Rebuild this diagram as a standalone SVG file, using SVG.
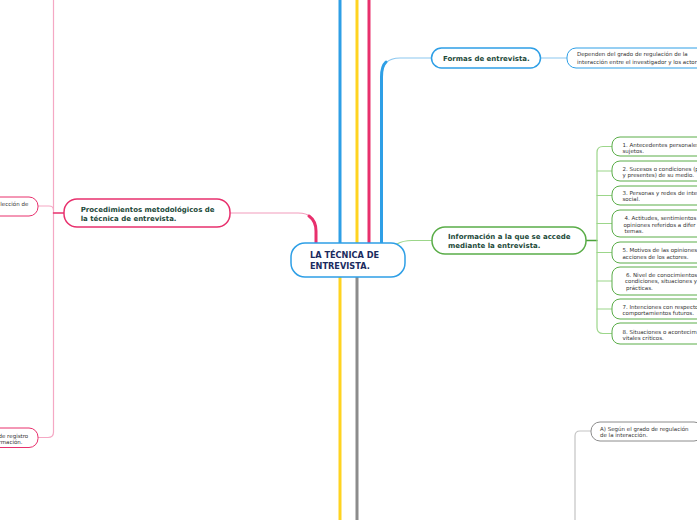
<svg xmlns="http://www.w3.org/2000/svg" width="697" height="520" viewBox="0 0 697 520">
<style>
.n{fill:#fff;stroke-width:1.5}
.b{stroke:#2e9fe6}.g{stroke:#5aad48}.p{stroke:#e8306d}.k{stroke:#8c8c8c}
.s{fill:#fff;stroke-width:1}
.h{font-family:"DejaVu Sans",Verdana,sans-serif;font-weight:bold;font-size:7px;fill:#1d4a3a}
.c{font-family:"DejaVu Sans",Verdana,sans-serif;font-weight:bold;font-size:8.2px;fill:#1a2b5e}
.t{font-family:"DejaVu Sans",Verdana,sans-serif;font-size:5.5px;fill:#333}
.l{fill:none}
</style>
<rect width="697" height="520" fill="#fff"/>
<g id="connectors" fill="none" stroke-linecap="round">
<line x1="340" y1="0" x2="340" y2="244" stroke="#2e9fe6" stroke-width="3"/>
<line x1="357" y1="0" x2="357" y2="244" stroke="#ffd320" stroke-width="3"/>
<line x1="369" y1="0" x2="369" y2="244" stroke="#e8306d" stroke-width="3"/>
<line x1="340" y1="276" x2="340" y2="520" stroke="#ffd320" stroke-width="3"/>
<line x1="357" y1="276" x2="357" y2="520" stroke="#8c8c8c" stroke-width="3"/>
<path d="M431,58 H400 Q381.5,58 381.5,77 V244" stroke="#8cc8f0" stroke-width="1.2"/>
<path d="M386,62 Q381.5,66 381.5,77 V244" stroke="#2e9fe6" stroke-width="3"/>
<line x1="541" y1="58" x2="567" y2="58" stroke="#8cc8f0" stroke-width="1.2"/>
<path d="M230,213 H298 Q316,213 316,231 V244" stroke="#f29bbb" stroke-width="1.2"/>
<path d="M309,216 Q316,221 316,231 V244" stroke="#e8306d" stroke-width="3"/>
<path d="M397,244 C402,241 405,240.5 412,240.5 H432" stroke="#9cd68a" stroke-width="1.2"/>
<line x1="586" y1="240.5" x2="597" y2="240.5" stroke="#4aa13a" stroke-width="1.5"/>
<path d="M612,146.5 H603 Q597,146.5 597,152.5 V327.5 Q597,333.5 603,333.5 H612" stroke="#9cd68a" stroke-width="1.2"/>
<path d="M597,171 H612 M597,195.5 H612 M597,223.5 H612 M597,252.5 H612 M597,281 H612 M597,309 H612" stroke="#9cd68a" stroke-width="1.2"/>
<path d="M53.5,0 V432 Q53.5,437.5 48,437.5 H38" stroke="#f5a8c4" stroke-width="1.2"/>
<path d="M38,206 H49 Q53.5,206 53.5,210" stroke="#f5a8c4" stroke-width="1.2"/>
<line x1="53.5" y1="213" x2="64" y2="213" stroke="#e8306d" stroke-width="1.5"/>
<path d="M591,431 H580 Q575,431 575,436 V520" stroke="#c4c4c4" stroke-width="1.2"/>
</g>
<g id="center">
<rect class="n b" x="291" y="243" width="114" height="34" rx="14"/>
<text class="c" x="310" y="257.5">LA TÉCNICA DE</text>
<text class="c" x="310" y="269">ENTREVISTA.</text>
</g>
<g id="formas">
<rect class="n b" x="431.5" y="48" width="109" height="20" rx="10"/>
<text class="h" x="443" y="60.8">Formas de entrevista.</text>
</g>
<g id="dependen">
<rect class="s b" x="567" y="48" width="140" height="20" rx="9"/>
<text class="t" x="577" y="56">Dependen del grado de regulación de la</text>
<text class="t" x="577" y="64">interacción entre el investigador y los actor</text>
</g>
<g id="informacion">
<rect class="n g" x="432" y="227" width="154" height="27" rx="13"/>
<text class="h" x="448" y="238.5">Información a la que se accede</text>
<text class="h" x="448" y="248">mediante la entrevista.</text>
</g>
<g id="item1"><rect class="s g" x="612" y="137" width="120" height="19" rx="8"/>
<text class="t" x="622.5" y="146.5">1. Antecedentes personales</text><text class="t" x="622.5" y="152.5">sujetos.</text></g>
<g id="item2"><rect class="s g" x="612" y="161" width="120" height="20" rx="8"/>
<text class="t" x="622.5" y="171">2. Sucesos o condiciones (p</text><text class="t" x="622.5" y="177">y presentes) de su medio.</text></g>
<g id="item3"><rect class="s g" x="612" y="186" width="120" height="19" rx="8"/>
<text class="t" x="622.5" y="195">3. Personas y redes de inte</text><text class="t" x="622.5" y="201">social.</text></g>
<g id="item4"><rect class="s g" x="612" y="210" width="120" height="27" rx="8"/>
<text class="t" x="624.5" y="220">4. Actitudes, sentimientos</text><text class="t" x="623.5" y="226.5">opiniones referidos a difer</text><text class="t" x="624.5" y="233">temas.</text></g>
<g id="item5"><rect class="s g" x="612" y="242" width="120" height="21" rx="8"/>
<text class="t" x="622.5" y="252">5. Motivos de las opiniones</text><text class="t" x="622.5" y="259">acciones de los actores.</text></g>
<g id="item6"><rect class="s g" x="612" y="267" width="120" height="28" rx="8"/>
<text class="t" x="626" y="276.5">6. Nivel de conocimientos</text><text class="t" x="625" y="283">condiciones, situaciones y</text><text class="t" x="626" y="289.5">prácticas.</text></g>
<g id="item7"><rect class="s g" x="612" y="299" width="120" height="20" rx="8"/>
<text class="t" x="622.5" y="308.5">7. Intenciones con respecto</text><text class="t" x="622.5" y="314.5">comportamientos futuros.</text></g>
<g id="item8"><rect class="s g" x="612" y="323" width="120" height="21" rx="8"/>
<text class="t" x="622.5" y="333.5">8. Situaciones o acontecim</text><text class="t" x="622.5" y="339.5">vitales críticos.</text></g>
<g id="procedimientos">
<rect class="n p" x="64" y="199" width="166" height="28" rx="13"/>
<text class="h" x="80.7" y="212">Procedimientos metodológicos de</text>
<text class="h" x="80.7" y="220.8">la técnica de entrevista.</text>
</g>
<g id="seleccion">
<rect class="s p" x="-100" y="197" width="138" height="19" rx="9"/>
<text class="t" x="0.3" y="206">lección de</text>
</g>
<g id="registro">
<rect class="s p" x="-100" y="428" width="138" height="19.5" rx="9"/>
<text class="t" x="-1.5" y="437.5">de registro</text>
<text class="t" x="-1.5" y="444">rmación.</text>
</g>
<g id="segun">
<rect class="s k" x="591" y="422" width="112" height="19" rx="9"/>
<text class="t" x="600" y="431">A) Según el grado de regulación</text>
<text class="t" x="600" y="437">de la interacción.</text>
</g>
</svg>
